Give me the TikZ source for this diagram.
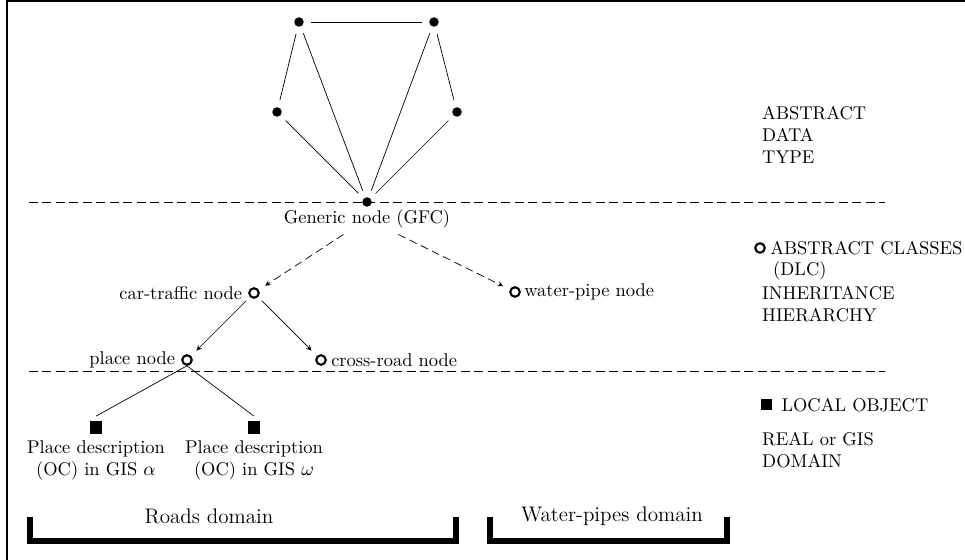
\documentclass[tikz,border=0pt]{standalone}
\usetikzlibrary{positioning}
\begin{document}
\begin{tikzpicture}[x=0.02cm,y=-0.02cm,
  every node/.style={font=\fontsize{10.5}{12.5}\selectfont},
  dot/.style={circle,fill,inner sep=0pt,minimum size=1.9mm},
  cls/.style={circle,draw,line width=1.2pt,inner sep=0pt,minimum size=1.9mm},
  obj/.style={rectangle,fill,inner sep=0pt,minimum size=2.6mm},
  link/.style={shorten <=1.4mm,shorten >=1.4mm},
  sepline/.style={dash pattern=on 1.8mm off 0.9mm},
  dasharrow/.style={->,>=stealth,dash pattern=on 1.6mm off 0.9mm,shorten >=1.5mm},
  inherit/.style={->,>=stealth,shorten <=1mm,shorten >=1.5mm},
  bracket/.style={line width=3pt}]
\useasboundingbox (0,0) rectangle (965,560);
\draw[semithick] (7,560) -- (7,1) -- (965,1);

\node[dot] (t1) at (299,22) {};
\node[dot] (t2) at (434,22) {};
\node[dot] (m1) at (277,112) {};
\node[dot] (m2) at (457,112) {};
\node[dot] (g) at (367,202) {};
\draw[link] (t1) -- (t2);
\draw[link] (t1) -- (m1);
\draw[link] (t1) -- (g);
\draw[link] (t2) -- (m2);
\draw[link] (t2) -- (g);
\draw[link] (m1) -- (g);
\draw[link] (m2) -- (g);

\draw[sepline] (29,202) -- (885,202);
\draw[sepline] (29,371) -- (885,371);

\node (gfc) [below=-2pt of g] {Generic node (GFC)};
\node[cls] (car) at (254,293) {};
\node (carlab) [left=0pt of car] {car-traffic node};
\node[cls] (water) at (515,292) {};
\node (waterlab) [right=-1.5pt of water] {water-pipe node};
\node[cls] (place) at (187,360) {};
\node (placelab) [left=0pt of place] {place node};
\node[cls] (cross) at (321,360) {};
\node (crosslab) [right=-1pt of cross] {cross-road node};
\draw[dasharrow] (gfc) -- (car);
\draw[dasharrow] (gfc) -- (water);
\draw[inherit] (car) -- (place);
\draw[inherit] (car) -- (cross);

\node[obj] (oca) at (96,428) {};
\node[obj] (ocw) at (254,428) {};
\node (ocalab) [below=0pt of oca,align=center] {Place description\\(OC) in GIS $\alpha$};
\node (ocwlab) [below=0pt of ocw,align=center] {Place description\\(OC) in GIS $\omega$};
\draw (place.south) -- ([yshift=1mm]oca.north);
\draw (place.south) -- ([yshift=1mm]ocw.north);

\node (roads) at (209,516) {\large Roads domain};
\draw[bracket] (30,517) -- (30,541) -- (456,541) -- (456,517);
\node (pipes) at (612,516) {\large Water-pipes domain};
\draw[bracket] (490,517) -- (490,541) -- (727,541) -- (727,517);

\node[anchor=west,align=left] (adt) at (756,135) {ABSTRACT\\DATA\\TYPE};
\node[cls] (clskey) at (760,248) {};
\node (clslab) [right=-1pt of clskey] {ABSTRACT CLASSES};
\node[anchor=west] (dlc) at (767,271) {(DLC)};
\node[anchor=west,align=left] (hier) at (756,304) {INHERITANCE\\HIERARCHY};
\node[obj,minimum size=2.2mm] (objkey) at (766,405) {};
\node (objlab) [right=2pt of objkey] {LOCAL OBJECT};
\node[anchor=west,align=left] (real) at (756,450) {REAL or GIS\\DOMAIN};
\end{tikzpicture}
\end{document}
